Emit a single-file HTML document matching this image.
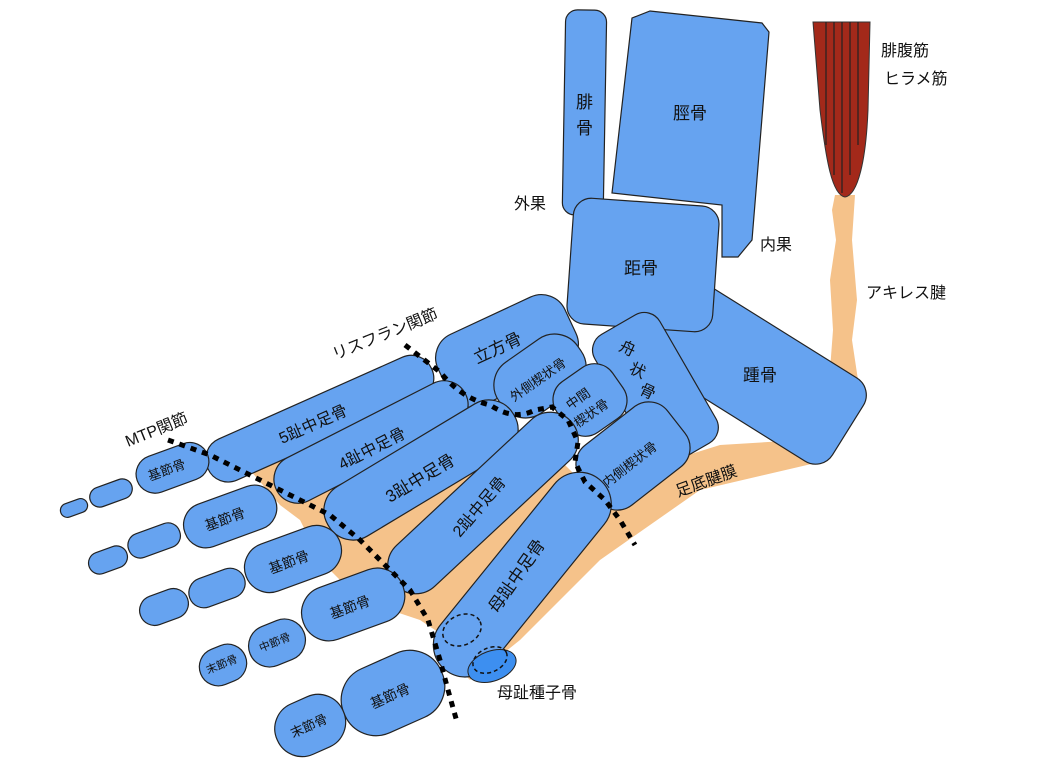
<!DOCTYPE html>
<html><head><meta charset="utf-8"><style>
html,body{margin:0;padding:0;background:#fff;}
svg{display:block}
text{font-family:"Liberation Sans","Noto Sans CJK JP",sans-serif;fill:#111;}
.b{fill:#66a3f0;stroke:#222;stroke-width:1.2}
.d{fill:none;stroke:#000;stroke-width:5;stroke-dasharray:6,6}
</style></head><body>
<svg width="1037" height="781" viewBox="0 0 1037 781" xmlns="http://www.w3.org/2000/svg">
<g fill="#f5c28a">
<polygon points="800,440 830,445 820,462 700,490 600,560 520,640 470,680 440,650 430,600 470,560 560,510 640,470 720,445"/>
<polygon points="250,470 310,450 380,430 460,420 520,430 560,460 600,500 560,560 500,600 450,640 420,620 360,600 320,560 300,520 280,505"/>
<polygon points="835,195 855,195 852,240 857,300 852,340 858,380 848,400 830,370 833,330 830,280 836,240 832,210"/>
</g>
<path d="M813,22 L870,22 L868,110 C866,160 858,195 845,197 C832,195 826,160 820,110 Z" fill="#a3291a" stroke="#333" stroke-width="1"/>
<g stroke="#222" stroke-width="1.2"><line x1="826" y1="22" x2="826" y2="145"/><line x1="834" y1="22" x2="834" y2="175"/><line x1="842" y1="22" x2="842" y2="193"/><line x1="850" y1="22" x2="850" y2="175"/><line x1="858" y1="22" x2="858" y2="145"/></g>
<rect class="b" x="564" y="10" width="41" height="205" rx="12" transform="rotate(1 585 110)"/>
<polygon class="b" points="632,18 650,11 762,23 769,32 752,240 738,257 722,257 722,205 612,193"/>
<rect class="b" x="652" y="325" width="212" height="98" rx="20" transform="rotate(32 758 374)"/>
<rect class="b" x="570" y="202" width="146" height="126" rx="18" transform="rotate(4 643 265)"/>
<rect class="b" x="618" y="315" width="75" height="148" rx="18" transform="rotate(-30 655 389)"/>
<rect class="b" x="437" y="312" width="140" height="78" rx="26" transform="rotate(-25 507 351)"/>
<rect class="b" x="492" y="345" width="96" height="62" rx="28" transform="rotate(-35 540 376)"/>
<rect class="b" x="556" y="369" width="68" height="62" rx="22" transform="rotate(-35 590 400)"/>
<rect class="b" x="578" y="418" width="110" height="76" rx="24" transform="rotate(-38 633 456)"/>
<rect class="b" x="197" y="396" width="245" height="45" rx="22" transform="rotate(-24 320 418)"/>
<rect class="b" x="265" y="418" width="212" height="48" rx="24" transform="rotate(-27 371 442)"/>
<rect class="b" x="313" y="441" width="216" height="58" rx="28" transform="rotate(-31 421 470)"/>
<rect class="b" x="363" y="475" width="240" height="56" rx="28" transform="rotate(-43 483 503)"/>
<rect class="b" x="400" y="543" width="245" height="64" rx="32" transform="rotate(-51 522 575)"/>
<ellipse cx="492" cy="666" rx="25" ry="15" fill="#3d8ff0" stroke="#222" transform="rotate(-20 492 666)"/>
<ellipse cx="462" cy="630" rx="20" ry="15" fill="none" stroke="#111" stroke-width="1.5" stroke-dasharray="4,3" transform="rotate(-25 462 630)"/>
<ellipse cx="490" cy="660" rx="18" ry="12" fill="none" stroke="#111" stroke-width="1.5" stroke-dasharray="4,3" transform="rotate(-25 490 660)"/>
<rect class="b" x="135" y="449" width="75" height="38" rx="19" transform="rotate(-20 172 468)"/>
<rect class="b" x="89" y="483" width="44" height="20" rx="10" transform="rotate(-20 111 493)"/>
<rect class="b" x="60" y="501" width="28" height="14" rx="7" transform="rotate(-20 74 508)"/>
<rect class="b" x="182" y="494" width="96" height="45" rx="22" transform="rotate(-20 230 516)"/>
<rect class="b" x="127" y="528" width="54" height="25" rx="12" transform="rotate(-20 154 540)"/>
<rect class="b" x="88" y="549" width="40" height="22" rx="11" transform="rotate(-20 108 560)"/>
<rect class="b" x="243" y="534" width="100" height="50" rx="25" transform="rotate(-20 293 559)"/>
<rect class="b" x="188" y="573" width="58" height="30" rx="15" transform="rotate(-20 217 588)"/>
<rect class="b" x="139" y="592" width="50" height="30" rx="15" transform="rotate(-20 164 607)"/>
<rect class="b" x="300" y="577" width="106" height="55" rx="27" transform="rotate(-20 353 604)"/>
<rect class="b" x="248" y="622" width="58" height="42" rx="21" transform="rotate(-22 277 643)"/>
<rect class="b" x="199" y="646" width="48" height="38" rx="19" transform="rotate(-22 223 665)"/>
<rect class="b" x="340" y="658" width="106" height="70" rx="34" transform="rotate(-24 393 693)"/>
<rect class="b" x="274" y="698" width="72" height="55" rx="27" transform="rotate(-24 310 725)"/>
<path class="d" d="M168,440 L210,455 L250,475 L290,495 L330,515 L360,540 L385,565 L410,590 L428,620 L440,660 L448,690 L457,722"/>
<path class="d" d="M405,345 L440,372 C455,390 470,400 490,405 C505,415 520,418 535,410 L552,407 L568,420 L578,442 L575,462 L585,482 L605,500 L620,520 L635,545"/>
<g>
<text x="576" y="108" font-size="17">腓</text><text x="576" y="134" font-size="17">骨</text>
<text x="673" y="119" font-size="17">脛骨</text>
<text x="624" y="274" font-size="17">距骨</text>
<text x="743" y="381" font-size="17">踵骨</text>
<text x="514" y="209" font-size="16">外果</text>
<text x="760" y="250" font-size="16">内果</text>
<text x="881" y="56" font-size="16">腓腹筋</text>
<text x="884" y="84" font-size="16">ヒラメ筋</text>
<text x="866" y="298" font-size="16">アキレス腱</text>
<text x="0" y="0" font-size="16" transform="translate(678,497) rotate(-20)">足底腱膜</text>
<text x="497" y="698" font-size="16">母趾種子骨</text>
<text x="0" y="0" font-size="16" transform="translate(335,360) rotate(-22)">リスフラン関節</text>
<text x="0" y="0" font-size="16" transform="translate(128,447) rotate(-22)">MTP関節</text>
<text x="0" y="0" font-size="17" transform="translate(477,364) rotate(-25)">立方骨</text>
<text x="0" y="0" font-size="13" transform="translate(514,402) rotate(-35)">外側楔状骨</text>
<text x="0" y="0" font-size="13" transform="translate(570,410) rotate(-35)">中間</text>
<text x="0" y="0" font-size="13" transform="translate(578,428) rotate(-35)">楔状骨</text>
<text x="0" y="0" font-size="16" transform="translate(618,350) rotate(25)">舟</text>
<text x="0" y="0" font-size="16" transform="translate(628,372) rotate(25)">状</text>
<text x="0" y="0" font-size="16" transform="translate(638,393) rotate(25)">骨</text>
<text x="0" y="0" font-size="13" transform="translate(607,488) rotate(-38)">内側楔状骨</text>
<text x="0" y="0" font-size="16" transform="translate(282,444) rotate(-24)">5趾中足骨</text>
<text x="0" y="0" font-size="16" transform="translate(342,470) rotate(-27)">4趾中足骨</text>
<text x="0" y="0" font-size="17" transform="translate(390,503) rotate(-31)">3趾中足骨</text>
<text x="0" y="0" font-size="16" transform="translate(460,538) rotate(-50)">2趾中足骨</text>
<text x="0" y="0" font-size="17" transform="translate(497,614) rotate(-55)">母趾中足骨</text>
<text x="0" y="0" font-size="13" transform="translate(150,481) rotate(-20)">基節骨</text>
<text x="0" y="0" font-size="14" transform="translate(207,531) rotate(-20)">基節骨</text>
<text x="0" y="0" font-size="14" transform="translate(271,574) rotate(-20)">基節骨</text>
<text x="0" y="0" font-size="14" transform="translate(332,619) rotate(-20)">基節骨</text>
<text x="0" y="0" font-size="11" transform="translate(261,652) rotate(-22)">中節骨</text>
<text x="0" y="0" font-size="11" transform="translate(208,674) rotate(-22)">末節骨</text>
<text x="0" y="0" font-size="14" transform="translate(373,709) rotate(-24)">基節骨</text>
<text x="0" y="0" font-size="13" transform="translate(293,738) rotate(-24)">末節骨</text>
</g>
</svg>
</body></html>
